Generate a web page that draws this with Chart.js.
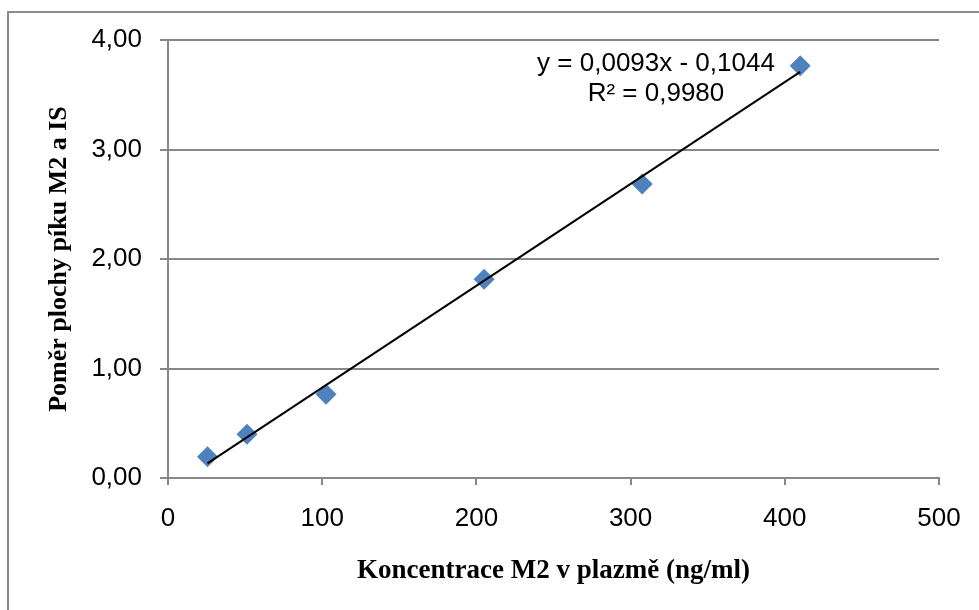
<!DOCTYPE html>
<html>
<head>
<meta charset="utf-8">
<script src="https://cdn.jsdelivr.net/npm/chart.js@4.4.1/dist/chart.umd.min.js"></script>
<style>
  html, body { margin: 0; padding: 0; background: #ffffff; }
  #wrap { width: 979px; height: 610px; }
</style>
</head>
<body>
<div id="wrap"><canvas id="c" width="979" height="610"></canvas></div>
<script>
// ---- data ----
const concentrations = [25.625, 51.25, 102.5, 205, 307.5, 410];   // ng/ml
const peakRatios     = [0.195, 0.40, 0.765, 1.814, 2.685, 3.765];
const xTickValues    = [0, 100, 200, 300, 400, 500];
const yTickValues    = [0, 1, 2, 3, 4];
const trendSlope     = 0.0093;
const trendIntercept = -0.1044;
const trendR2        = 0.9980;
const xTitle = 'Koncentrace M2 v plazmě (ng/ml)';
const yTitle = 'Poměr plochy píku M2 a IS';

const fmtComma = (v, d) => v.toFixed(d).replace('.', ',');
const eqLine1 = 'y = ' + fmtComma(trendSlope, 4) + 'x - ' + fmtComma(Math.abs(trendIntercept), 4);
const eqLine2 = 'R² = ' + fmtComma(trendR2, 4);

const points = concentrations.map((x, i) => ({ x: x, y: peakRatios[i] }));
const xMin = Math.min(...concentrations), xMax = Math.max(...concentrations);
const trendPoints = [xMin, xMax].map(x => ({ x: x, y: trendSlope * x + trendIntercept }));

const SANS = "'Liberation Sans', Arial, sans-serif";
const SERIF = "'Liberation Serif', 'Times New Roman', serif";
const GRID = '#878787';

const framePlugin = {
  id: 'frame',
  beforeDraw(chart) {
    const ctx = chart.ctx;
    ctx.save();
    ctx.fillStyle = '#ffffff';
    ctx.fillRect(0, 0, chart.width, chart.height);
    ctx.strokeStyle = '#8a8a8a';
    ctx.lineWidth = 2;
    ctx.beginPath();
    ctx.moveTo(8, chart.height + 5);
    ctx.lineTo(8, 12);
    ctx.lineTo(chart.width + 5, 12);
    ctx.stroke();
    ctx.restore();
  }
};

const equationPlugin = {
  id: 'equation',
  afterDatasetsDraw(chart) {
    const ctx = chart.ctx;
    const a = chart.chartArea;
    const cx = a.right - 283;
    ctx.save();
    ctx.fillStyle = '#000000';
    ctx.font = '26px ' + SANS;
    ctx.textAlign = 'center';
    ctx.textBaseline = 'middle';
    ctx.fillText(eqLine1, cx, a.top + 24);
    ctx.fillText(eqLine2, cx, a.top + 54);
    ctx.restore();
  }
};

new Chart(document.getElementById('c'), {
  type: 'scatter',
  data: {
    datasets: [
      {
        label: 'Lineární (trend)',
        data: trendPoints,
        showLine: true,
        borderColor: '#000000',
        borderWidth: 2,
        pointRadius: 0,
        fill: false
      },
      {
        label: 'M2',
        data: points,
        pointStyle: 'rectRot',
        pointRadius: 10.5,
        pointBackgroundColor: '#4F81BD',
        pointBorderColor: '#4F81BD',
        pointBorderWidth: 0,
        showLine: false
      }
    ]
  },
  options: {
    responsive: false,
    animation: false,
    devicePixelRatio: 1,
    layout: { padding: { left: 0, right: 40, top: 40, bottom: 0 } },
    plugins: {
      legend: { display: false },
      tooltip: { enabled: false }
    },
    scales: {
      x: {
        type: 'linear',
        min: 0, max: 500,
        afterBuildTicks(scale) { scale.ticks = xTickValues.map(v => ({ value: v })); },
        afterFit(scale) { scale.height = 132; },
        ticks: {
          color: '#000000',
          font: { family: SANS, size: 26 },
          padding: 18,
          maxRotation: 0,
          callback: v => String(v)
        },
        grid: { drawOnChartArea: false, drawTicks: true, tickLength: 7, color: GRID, lineWidth: 2 },
        border: { display: true, color: GRID, width: 2 },
        title: {
          display: true,
          text: xTitle,
          color: '#000000',
          font: { family: SERIF, size: 27, weight: 'bold' },
          padding: { top: 0, bottom: 23 }
        }
      },
      y: {
        type: 'linear',
        min: 0, max: 4,
        afterBuildTicks(scale) { scale.ticks = yTickValues.map(v => ({ value: v })); },
        afterFit(scale) { scale.width = 168; },
        ticks: {
          color: '#000000',
          font: { family: SANS, size: 26 },
          padding: 18,
          callback: v => fmtComma(v, 2)
        },
        grid: { drawOnChartArea: true, drawTicks: true, tickLength: 8, color: GRID, lineWidth: 2 },
        border: { display: true, color: GRID, width: 2 },
        title: {
          display: true,
          text: yTitle,
          color: '#000000',
          font: { family: SERIF, size: 26, weight: 'bold' },
          padding: { top: 44, bottom: 0 }
        }
      }
    }
  },
  plugins: [framePlugin, equationPlugin]
});
</script>
</body>
</html>
